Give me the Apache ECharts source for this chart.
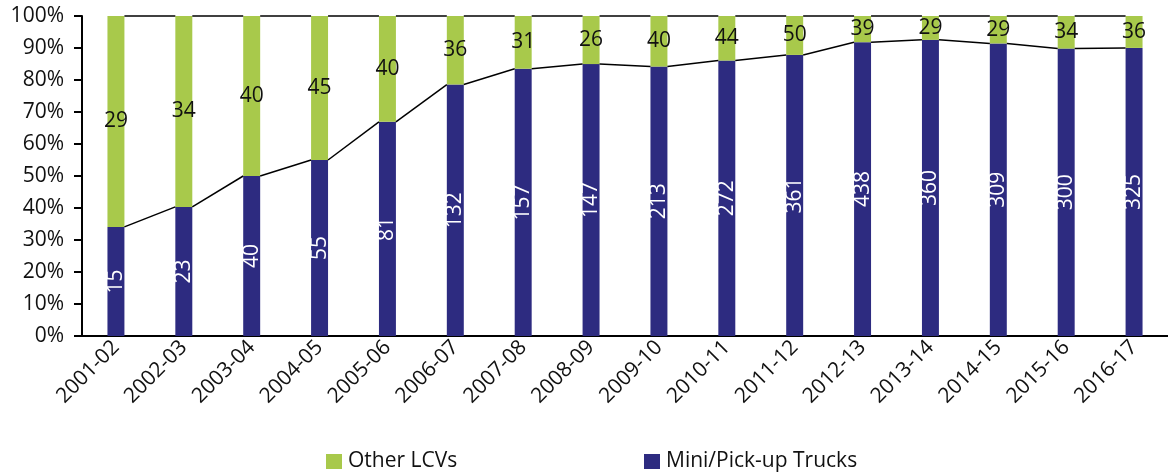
<!DOCTYPE html>
<html>
<head>
<meta charset="utf-8">
<script src="https://cdn.jsdelivr.net/npm/echarts@6/dist/echarts.min.js"></script>
<style>
    html, body { margin: 0; padding: 0; background: #fff; }
    #chart { width: 1168px; height: 475px; }
</style>
</head>
<body>
<div id="chart"></div>
<script>
    const years = ['2001-02', '2002-03', '2003-04', '2004-05', '2005-06', '2006-07', '2007-08', '2008-09',
        '2009-10', '2010-11', '2011-12', '2012-13', '2013-14', '2014-15', '2015-16', '2016-17']
    const miniTrucks = [15, 23, 40, 55, 81, 132, 157, 147, 213, 272, 361, 438, 360, 309, 300, 325]
    const otherLcvs = [29, 34, 40, 45, 40, 36, 31, 26, 40, 44, 50, 39, 29, 29, 34, 36]

    // shares of each year's total, in percent
    const miniShare = miniTrucks.map((v, i) => v / (v + otherLcvs[i]) * 100)
    const otherShare = otherLcvs.map((v, i) => v / (miniTrucks[i] + v) * 100)

    // Excel-like series lines: from the right edge of one bar top to the left edge of the next
    const seriesLines = []
    for (let i = 0; i < years.length - 1; i++) {
        seriesLines.push([i, miniShare[i], miniShare[i + 1]])
        seriesLines.push([i, 100, 100])
    }

    const font = '"Open Sans", "Noto Sans", sans-serif'
    const green = '#a8c94b'
    const blue = '#2d2b80'
    const fontSize = 21

    const legendText = { fontFamily: font, fontSize: fontSize, color: '#111', padding: [0, 0, 0, 1] }

    const chart = echarts.init(document.getElementById('chart'))
    chart.setOption({
        animation: false,
        textStyle: { fontFamily: font },
        grid: { left: 82, right: -4, top: 16, bottom: 139 },
        legend: [
            {
                data: ['Other LCVs'],
                left: 321, top: 446,
                itemWidth: 16, itemHeight: 15, itemGap: 0,
                icon: 'rect',
                textStyle: legendText
            },
            {
                data: ['Mini/Pick-up Trucks'],
                left: 639, top: 446,
                itemWidth: 16, itemHeight: 15, itemGap: 0,
                icon: 'rect',
                textStyle: legendText
            }
        ],
        xAxis: {
            type: 'category',
            data: years,
            axisLine: { lineStyle: { color: '#000', width: 2 } },
            axisTick: { show: false },
            axisLabel: { rotate: 45, fontFamily: font, fontSize: fontSize, color: '#111', margin: 8 }
        },
        yAxis: {
            type: 'value',
            min: 0,
            max: 100,
            interval: 10,
            splitLine: { show: false },
            axisLine: { show: true, lineStyle: { color: '#000', width: 2 } },
            axisTick: { show: true, length: 8, lineStyle: { color: '#000', width: 2 } },
            axisLabel: { formatter: '{value}%', fontFamily: font, fontSize: fontSize, color: '#111', margin: 18 }
        },
        series: [
            {
                name: 'Mini/Pick-up Trucks',
                type: 'bar',
                stack: 'total',
                barWidth: '25%',
                data: miniShare,
                itemStyle: { color: blue },
                label: {
                    show: true,
                    position: 'inside',
                    rotate: 90,
                    color: '#fff',
                    fontFamily: font,
                    fontSize: fontSize,
                    formatter: p => miniTrucks[p.dataIndex]
                }
            },
            {
                name: 'Other LCVs',
                type: 'bar',
                stack: 'total',
                barWidth: '25%',
                data: otherShare,
                itemStyle: { color: green },
                label: {
                    show: true,
                    position: 'inside',
                    color: '#111',
                    fontFamily: font,
                    fontSize: fontSize,
                    formatter: p => otherLcvs[p.dataIndex]
                }
            },
            {
                type: 'custom',
                data: seriesLines,
                silent: true,
                z: 5,
                renderItem: (params, api) => {
                    const i = api.value(0)
                    const halfBar = api.size([1, 0])[0] * 0.125
                    const a = api.coord([i, api.value(1)])
                    const b = api.coord([i + 1, api.value(2)])
                    return {
                        type: 'line',
                        shape: { x1: a[0] + halfBar, y1: a[1], x2: b[0] - halfBar, y2: b[1] },
                        style: { stroke: '#000', lineWidth: 1.5 }
                    }
                }
            }
        ]
    })
</script>
</body>
</html>
